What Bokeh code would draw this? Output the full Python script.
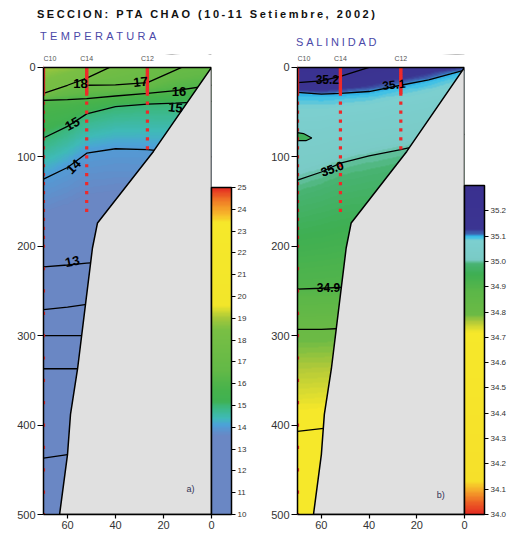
import numpy as np
from bokeh.plotting import figure
from bokeh.models import (Range1d, FixedTicker, LinearColorMapper, ColorBar, BoxAnnotation,
                          Span, LabelSet, ColumnDataSource, Div, NumeralTickFormatter)
from bokeh.layouts import column, row
from bokeh.embed import file_html
from bokeh.resources import INLINE
from bokeh.core.properties import value

# ---------------- data ----------------
MAIN_TITLE = "SECCION: PTA CHAO (10-11 Setiembre, 2002)"
TEMP_TITLE = "TEMPERATURA"
SAL_TITLE = "SALINIDAD"

STATION_NAMES = ["C10", "C14", "C12"]
STATION_X = [70, 52, 26.7]
STATION_BOTTOM = [500, 165, 93]
SAMPLE_DEPTHS = list(range(0, 30, 2)) + list(range(30, 200, 10)) + list(range(200, 501, 25))

BATHY_X = [0, 24.2, 47.5, 49.6, 52.5, 55.8, 58.75, 60, 63.3]
BATHY_D = [0, 94, 174, 202, 265, 337, 388, 433, 500]

COL_X = [70, 60, 52, 40, 26.7, 15, 0]   # columns (mn to coast) of the isoline depth tables

TEMP_LEVELS = [18, 17, 16, 15, 14, 13, 12, 11, 10, 9]
TEMP_DEPTHS = [
    [29, 20, 12, -3, -10, -15, -20],
    [33, 25, 20, 19.5, 17, 3, -15],
    [37, 36, 35, 32, 29, 26, 20],
    [79, 66, 52, 44, 41, 40, 38],
    [125, 112, 96, 91, 92, 95, 100],
    [223, 221, 219, 217, 215, 213, 210],
    [271, 268, 265, 262, 260, 258, 255],
    [300, 300, 300, 300, 300, 300, 300],
    [337, 337, 337, 337, 337, 337, 337],
    [437, 433, 430, 428, 426, 424, 422],
]
TEMP_SURFACE = [18.9, 18.7, 18.4, 17.9, 17.4, 17.1, 16.8]
TEMP_LINE_FROM = [70, 52, 70, 70, 70, 70, 70, 70, 70, 70]
TEMP_LABELS = ["18", "17", "16", "15", "15", "14", "13"]
TEMP_LABEL_X = [54.6, 29.6, 13.5, 15.0, 58.0, 57.5, 58.0]
TEMP_LABEL_D = [18, 16, 27, 45, 63, 111, 217]
TEMP_TICKS = list(range(10, 26))

SAL_LEVELS = [35.2, 35.1, 35.0, 34.9, 34.8, 34.7]
SAL_DEPTHS = [
    [17, 15, 10, 0, -8, -12, -15],
    [28, 30, 29, 27, 20, 14, 3],
    [126, 117, 107, 99, 92, 85, 75],
    [248, 247, 246, 245, 244, 243, 242],
    [293, 293, 292, 292, 292, 292, 292],
    [407, 404, 402, 400, 400, 400, 400],
]
SAL_SURFACE = [35.26, 35.25, 35.23, 35.2, 35.17, 35.15, 35.12]
SAL_LINE_FROM = [70, 70, 70, 70, 70, 70]
SAL_LENS_X = [70, 67.5, 64, 66.5, 70]
SAL_LENS_D = [73, 74, 79, 82, 82]
SAL_LENS_VALUE = 34.96
SAL_LABELS = ["35.2", "35.1", "35.0", "34.9"]
SAL_LABEL_X = [57.5, 29.6, 55.5, 57.0]
SAL_LABEL_D = [14, 19, 113, 246]
SAL_TICKS = [round(34.0 + 0.1 * i, 1) for i in range(13)]

# ---------------- styles ----------------
FONT = "Liberation Sans"
TEMP_COLORS = [(10.0, '#6a87c4'), (13.6, '#6a87c4'), (13.95, '#5598d3'), (14.1, '#4ca2d8'),
               (14.4, '#3fbab8'), (14.9, '#3cb880'), (15.2, '#3fb152'), (15.8, '#49b34b'),
               (16.6, '#63b947'), (18.5, '#7abf44'), (19.0, '#a5c83a'), (19.6, '#f2e62a'),
               (23.4, '#f6e82a'), (23.8, '#f7b82b'), (24.4, '#f07d26'), (25.0, '#e42b22')]
SAL_COLORS = [(34.0, '#e42b22'), (34.04, '#ec5a24'), (34.09, '#f5a52a'), (34.13, '#f6e02a'),
              (34.72, '#f6e82a'), (34.76, '#b5cb38'), (34.79, '#6cba45'), (34.88, '#5cb748'),
              (34.95, '#3eaf52'), (34.99, '#48b372'), (35.01, '#7acbc6'), (35.085, '#7ccfd0'),
              (35.1, '#2ebcec'), (35.11, '#3d6cb6'), (35.13, '#3b3592'), (35.3, '#3a3090')]
TEMP_LABEL_ANGLE = [0.0, 0.1, 0.0, -0.1, 0.5, 0.8, 0.2]
SAL_LABEL_ANGLE = [0.0, 0.1, 0.35, 0.0]
SAL_LABEL_WEIGHT = ["bold", "bold", "normal", "bold"]
TEMP_LABEL_WEIGHT = ["bold"] * 7
STATION_ALIGN = ["left", "center", "center"]
TOP_PAD = -14.4   # depth shown above the sea surface (room for station names)


def make_palette(anchors, lo, hi, n=256):
    v = np.array([a[0] for a in anchors])
    c = np.array([[int(a[1][i:i + 2], 16) for i in (1, 3, 5)] for a in anchors], dtype=float)
    t = np.linspace(lo, hi, n)
    rgb = np.stack([np.interp(t, v, c[:, k]) for k in range(3)], axis=1)
    return ['#%02x%02x%02x' % tuple(int(round(x)) for x in r) for r in rgb]


def build_field(levels, table, surface, nx=141, nd=501):
    xc = np.array(COL_X, dtype=float)[::-1]
    tab = np.array(table, dtype=float)[:, ::-1]
    sf = np.array(surface, dtype=float)[::-1]
    lv = np.array(levels, dtype=float)
    xg = np.linspace(0, 70, nx)
    dg = np.linspace(0, 500, nd)
    f = np.zeros((nd, nx))
    for j, xv in enumerate(xg):
        ld = np.array([np.interp(xv, xc, r) for r in tab])
        keep = ld > 0
        d = np.concatenate([[0.0], ld[keep]])
        vv = np.concatenate([[np.interp(xv, xc, sf)], lv[keep]])
        f[:, j] = np.interp(dg, d, vv)
    return f


def make_panel(levels, table, surface, line_from, colors, lo, hi, ticks, fmt,
               labels, lab_x, lab_d, lab_angle, lab_weight, lab_size, corner,
               frame_w, left_b, right_b, cb_height, lens=None):
    palette = make_palette(colors, lo, hi)
    mapper = LinearColorMapper(palette=palette, low=lo, high=hi)
    p = figure(output_backend="svg", toolbar_location=None,
               frame_width=frame_w, frame_height=460,
               x_range=Range1d(70, 0), y_range=Range1d(500, TOP_PAD),
               min_border_left=left_b, min_border_right=right_b,
               min_border_top=4, min_border_bottom=17,
               background_fill_color="white", border_fill_color="white")
    p.grid.visible = False
    p.outline_line_color = None

    field = build_field(levels, table, surface)
    p.image(image=[field], x=0, y=0, dw=70, dh=500, color_mapper=mapper)

    for lev, row_d, start in zip(levels, table, line_from):
        xs = [x for x in COL_X if x <= start]
        ds = [d for x, d in zip(COL_X, row_d) if x <= start]
        p.line(xs, ds, line_color="black", line_width=1.3)

    if lens is not None:
        lx, ld, lval = lens
        idx = int(round((lval - lo) / (hi - lo) * (len(palette) - 1)))
        p.patch(lx, ld, fill_color=palette[idx], line_color="black", line_width=1.2)

    # bathymetry (closed along the coast line x = 0)
    p.patch(BATHY_X + [0], BATHY_D + [500], fill_color="#e0e0e0", line_color=None)
    p.line(BATHY_X + [0, 0], BATHY_D + [500, 0], line_color="black", line_width=1.5)

    # stations
    for sx, sb in zip(STATION_X, STATION_BOTTOM):
        ds = [d for d in SAMPLE_DEPTHS if d <= sb]
        p.scatter([sx] * len(ds), ds, marker="square", size=3.2,
                  fill_color="#ee2a2a", line_color=None)

    # contour labels
    p.text(lab_x, lab_d, text=labels, angle=lab_angle, text_align="center",
           text_baseline="middle", text_font=value(FONT), text_font_size=lab_size,
           text_font_style=lab_weight[0], text_color="black")
    for i, w in enumerate(lab_weight):
        if w != lab_weight[0]:
            p.text([lab_x[i]], [lab_d[i]], text=[labels[i]], angle=lab_angle[i],
                   text_align="center", text_baseline="middle", text_font=value(FONT),
                   text_font_size=lab_size, text_font_style=w, text_color="black")
    p.text([corner[0]], [corner[1]], text=[corner[2]], text_align="center",
           text_baseline="middle", text_font=value(FONT), text_font_size="9px",
           text_color="#333355")

    # white strip above the sea surface, surface line, station names
    p.add_layout(BoxAnnotation(top=0, bottom=TOP_PAD - 5, fill_color="white",
                               fill_alpha=1, line_color=None))
    p.add_layout(Span(location=0, dimension="width", line_color="black", line_width=1.5))
    src = ColumnDataSource(dict(x=STATION_X, y=[-10] * 3, t=STATION_NAMES, a=STATION_ALIGN))
    p.add_layout(LabelSet(x="x", y="y", text="t", source=src, text_align="a",
                          text_baseline="middle", text_font_size="7px",
                          text_font=value(FONT), text_color="#555555"))

    # axes
    for ax in (p.xaxis, p.yaxis):
        ax.axis_line_width = 1.5
        ax.major_tick_in = 0
        ax.minor_tick_line_color = None
        ax.major_tick_line_width = 1.2
        ax.major_label_text_font = FONT
        ax.major_label_text_font_size = "11px"
        ax.major_label_text_color = "#333333"
        ax.major_label_standoff = 2
    p.xaxis.major_tick_out = 4
    p.yaxis.major_tick_out = 6
    p.xaxis.ticker = FixedTicker(ticks=[60, 40, 20, 0])
    p.yaxis.ticker = FixedTicker(ticks=[0, 100, 200, 300, 400, 500])
    p.yaxis.bounds = (0, 500)

    cb = ColorBar(color_mapper=mapper, ticker=FixedTicker(ticks=ticks), formatter=fmt,
                  width=20, height=cb_height, location="bottom_left",
                  padding=0, margin=3, bar_line_color="black", bar_line_width=1.5,
                  major_tick_line_color="black", major_tick_out=4, major_tick_in=0,
                  minor_tick_line_color=None, major_label_text_font_size="8px",
                  major_label_text_font=FONT, major_label_text_color="#333333",
                  label_standoff=2, background_fill_alpha=0, border_line_color=None)
    p.add_layout(cb, "right")
    return p


pt = make_panel(TEMP_LEVELS, TEMP_DEPTHS, TEMP_SURFACE, TEMP_LINE_FROM, TEMP_COLORS,
                10, 25, TEMP_TICKS, NumeralTickFormatter(format="0"),
                TEMP_LABELS, TEMP_LABEL_X, TEMP_LABEL_D, TEMP_LABEL_ANGLE, TEMP_LABEL_WEIGHT,
                "13px", (8.75, 472, "a)"), 168, 43, 47, 327)

ps = make_panel(SAL_LEVELS, SAL_DEPTHS, SAL_SURFACE, SAL_LINE_FROM, SAL_COLORS,
                34.0, 35.3, SAL_TICKS, NumeralTickFormatter(format="0.0"),
                SAL_LABELS, SAL_LABEL_X, SAL_LABEL_D, SAL_LABEL_ANGLE, SAL_LABEL_WEIGHT,
                "12px", (10, 478, "b)"), 167, 39, 50, 329,
                lens=(SAL_LENS_X, SAL_LENS_D, SAL_LENS_VALUE))

header = Div(text=(
    '<div style="position:relative;width:514px;height:50px;font-family:\'Liberation Sans\',Arial,sans-serif;">'
    f'<span style="position:absolute;left:37px;top:7px;font-size:11px;font-weight:bold;letter-spacing:2.5px;color:#111;white-space:nowrap;">{MAIN_TITLE}</span>'
    f'<span style="position:absolute;left:40px;top:29px;font-size:11px;letter-spacing:3.4px;color:#4a48a8;white-space:nowrap;">{TEMP_TITLE}</span>'
    f'<span style="position:absolute;left:296px;top:35px;font-size:11px;letter-spacing:2.8px;color:#4a48a8;white-space:nowrap;">{SAL_TITLE}</span>'
    '</div>'), width=514, height=50, margin=(0, 0, 0, 0))

layout = column(header, row(pt, ps))
open("out.html", "w").write(file_html(layout, INLINE))
